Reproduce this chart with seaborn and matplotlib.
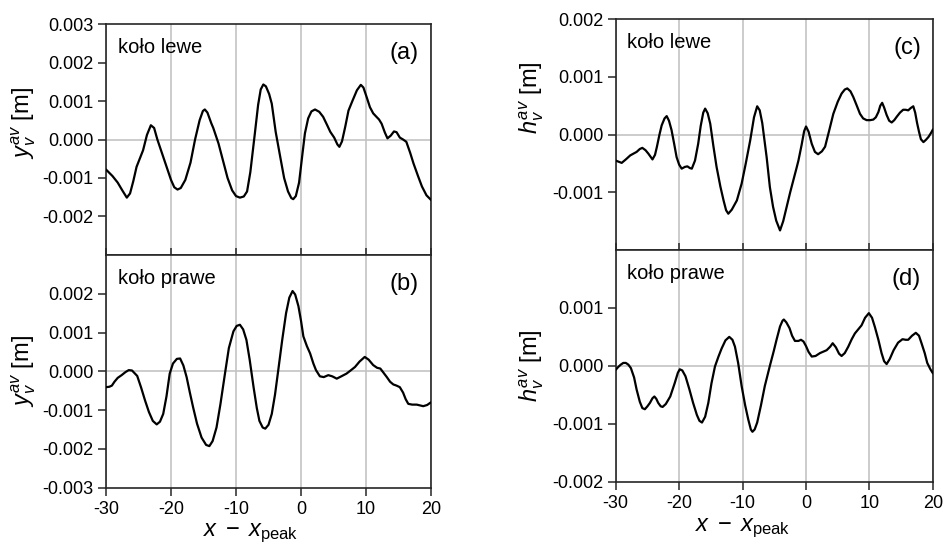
import matplotlib
matplotlib.use("Agg")
import seaborn as sns
import matplotlib.pyplot as plt

# ---- data (x - x_peak, displacement in m) ----
# (a) y_v^av, left wheel
xa = [-30, -29, -28.2, -27.5, -26.8, -26.3, -25.8, -25.3, -24.3, -23.7, -23.1, -22.6,
      -22.1, -21.5, -20.7, -20.0, -19.5, -19.0, -18.5, -17.8, -17.0, -16.3, -15.6, -15.1,
      -14.8, -14.4, -13.8, -13.5, -12.7, -12.0, -11.3, -10.6, -10.0, -9.4, -8.8, -8.3,
      -7.8, -7.1, -6.6, -6.2, -5.8, -5.4, -4.9, -4.5, -3.9, -3.2, -2.6, -2.0, -1.5, -1.2,
      -0.8, -0.3, 0.2, 0.6, 1.1, 1.6, 2.15, 2.8, 3.4, 4.0, 4.5, 5.1, 5.6, 5.9, 6.3, 6.8,
      7.3, 7.9, 8.6, 9.2, 9.6, 10.1, 10.6, 11.1, 11.6, 12.0, 12.4, 12.9, 13.3, 13.8, 14.3,
      14.7, 15.2, 15.7, 16.2, 16.8, 17.3, 18.0, 18.6, 19.3, 20]
ya = [-0.00078, -0.00095, -0.00112, -0.00132, -0.00151, -0.00140, -0.00108, -0.00071,
      -0.00028, 0.00012, 0.00037, 0.00030, 0.00000, -0.00030, -0.00070, -0.00105,
      -0.00124, -0.00130, -0.00126, -0.00105, -0.00060, 0.00000, 0.00050, 0.00074,
      0.00078, 0.00070, 0.00042, 0.00030, -0.00010, -0.00055, -0.00100, -0.00132,
      -0.00147, -0.00151, -0.00148, -0.00135, -0.00085, 0.00016, 0.00090, 0.00130,
      0.00143, 0.00138, 0.00118, 0.00093, 0.00020, -0.00045, -0.00100, -0.00135,
      -0.00152, -0.00155, -0.00147, -0.00112, -0.00040, 0.00016, 0.00055, 0.00073,
      0.00078, 0.00072, 0.00059, 0.00038, 0.00020, 0.00005, -0.00013, -0.00019,
      -0.00005, 0.00033, 0.00075, 0.00100, 0.00128, 0.00142, 0.00135, 0.00110, 0.00084,
      0.00068, 0.00059, 0.00052, 0.00041, 0.00018, 0.00003, 0.00010, 0.00021, 0.00019,
      0.00005, 0.00000, -0.00006, -0.00035, -0.00062, -0.00095, -0.00122, -0.00145,
      -0.00157]

# (b) y_v^av, right wheel
xb = [-30, -29.5, -29.1, -28.7, -28.2, -27.6, -27.0, -26.5, -26.0, -25.6, -25.2, -24.6,
      -24.0, -23.4, -22.8, -22.2, -21.7, -21.2, -20.7, -20.2, -19.7, -19.1, -18.6, -18.1,
      -17.6, -17.1, -16.6, -16.0, -15.3, -14.6, -14.1, -13.6, -13.0, -12.4, -11.7, -11.1,
      -10.4, -9.9, -9.4, -8.9, -8.4, -7.9, -7.3, -6.8, -6.4, -5.9, -5.5, -5.0, -4.5, -4.0,
      -3.5, -2.9, -2.3, -1.8, -1.3, -0.9, -0.4, 0.0, 0.36, 0.9, 1.4, 1.9, 2.3, 2.9, 3.5,
      4.2, 4.8, 5.5, 6.2, 7.0, 7.7, 8.3, 9.0, 9.8, 10.4, 11.1, 11.7, 12.2, 12.7, 13.2,
      13.7, 14.2, 14.7, 15.2, 15.7, 16.1, 16.5, 17.1, 17.8, 18.3, 18.8, 19.4, 20]
yb = [-0.00041, -0.00040, -0.00037, -0.00027, -0.00017, -0.00010, -0.00002, 0.00003,
      0.00002, -0.00005, -0.00012, -0.00042, -0.00075, -0.00105, -0.00128, -0.00137,
      -0.00130, -0.00110, -0.00065, -0.00006, 0.00020, 0.00032, 0.00033, 0.00015,
      -0.00015, -0.00055, -0.00093, -0.00135, -0.00171, -0.00190, -0.00193, -0.00180,
      -0.00145, -0.00085, -0.00006, 0.00060, 0.00103, 0.00117, 0.00120, 0.00108,
      0.00081, 0.00030, -0.00041, -0.00095, -0.00128, -0.00145, -0.00148, -0.00138,
      -0.00110, -0.00060, 0.00003, 0.00080, 0.00150, 0.00190, 0.00207, 0.00198, 0.00168,
      0.00130, 0.00090, 0.00065, 0.00046, 0.00020, 0.00003, -0.00013, -0.00015,
      -0.00010, -0.00013, -0.00019, -0.00013, -0.00006, 0.00003, 0.00011, 0.00025,
      0.00037, 0.00030, 0.00016, 0.00009, 0.00007, -0.00004, -0.00015, -0.00027,
      -0.00034, -0.00037, -0.00041, -0.00055, -0.00072, -0.00084, -0.00086, -0.00086,
      -0.00088, -0.00090, -0.00087, -0.00080]

# (c) h_v^av, left wheel
xc = [-30, -29.05, -28.4, -27.7, -26.7, -26.2, -25.8, -25.3, -24.85, -24.2, -23.8, -23.5,
      -23.1, -22.75, -22.3, -21.96, -21.6, -21.2, -20.8, -20.4, -20.0, -19.6, -19.1,
      -18.7, -18.3, -18.0, -17.5, -17.0, -16.6, -16.2, -15.9, -15.5, -15.1, -14.6, -14.1,
      -13.5, -13.0, -12.6, -12.25, -11.7, -10.9, -10.15, -9.5, -8.8, -8.2, -7.7, -7.3,
      -6.9, -6.2, -5.7, -5.2, -4.7, -4.1, -3.6, -3.05, -2.5, -2.0, -1.5, -1.2, -0.7, -0.3,
      0.0, 0.4, 0.9, 1.4, 1.9, 2.5, 3.0, 3.6, 4.3, 5.0, 5.6, 6.1, 6.5, 7.0, 7.45, 8.0, 8.5,
      9.0, 9.55, 10.1, 10.6, 11.0, 11.4, 11.7, 12.0, 12.3, 12.7, 13.1, 13.5, 13.9, 14.3,
      14.8, 15.3, 15.7, 16.1, 16.5, 16.9, 17.2, 17.5, 17.8, 18.1, 18.5, 18.9, 19.3, 19.7,
      20]
yc = [-0.00045, -0.00049, -0.00043, -0.00036, -0.00030, -0.00025, -0.00023, -0.00027,
      -0.00033, -0.00043, -0.00035, -0.00021, 0.00000, 0.00016, 0.00028, 0.00032,
      0.00024, 0.00008, -0.00015, -0.00039, -0.00052, -0.00059, -0.00056, -0.00055,
      -0.00058, -0.00059, -0.00045, -0.00016, 0.00015, 0.00038, 0.00045, 0.00037,
      0.00019, -0.00020, -0.00056, -0.00090, -0.00114, -0.00131, -0.00137, -0.00130,
      -0.00114, -0.00085, -0.00050, -0.00010, 0.00030, 0.00049, 0.00042, 0.00020,
      -0.00040, -0.00091, -0.00125, -0.00149, -0.00166, -0.00150, -0.00125, -0.00100,
      -0.00079, -0.00058, -0.00045, -0.00018, 0.00006, 0.00014, 0.00005, -0.00016,
      -0.00030, -0.00034, -0.00029, -0.00021, 0.00005, 0.00036, 0.00057, 0.00071,
      0.00078, 0.00080, 0.00075, 0.00065, 0.00050, 0.00036, 0.00028, 0.00025, 0.00025,
      0.00026, 0.00030, 0.00039, 0.00050, 0.00055, 0.00047, 0.00034, 0.00024, 0.00021,
      0.00025, 0.00031, 0.00038, 0.00043, 0.00043, 0.00042, 0.00046, 0.00049, 0.00038,
      0.00020, 0.00005, -0.00008, -0.00013, -0.00009, -0.00004, 0.00003, 0.00009]

# (d) h_v^av, right wheel
xd = [-30, -29.6, -29.2, -28.8, -28.4, -28.0, -27.6, -27.1, -26.7, -26.2, -25.8, -25.4,
      -25.0, -24.6, -24.2, -23.9, -23.6, -23.3, -22.9, -22.6, -22.1, -21.4, -20.7, -20.2,
      -19.9, -19.5, -19.0, -18.4, -17.8, -17.2, -16.8, -16.4, -15.9, -15.4, -14.9, -14.35,
      -13.8, -13.3, -12.7, -12.1, -11.6, -11.2, -10.7, -10.15, -9.6, -9.1, -8.7, -8.45,
      -8.1, -7.7, -7.1, -6.5, -5.7, -5.1, -4.65, -4.1, -3.7, -3.5, -3.1, -2.6, -2.2, -1.75,
      -1.2, -0.8, -0.4, 0.0, 0.4, 0.9, 1.5, 2.2, 3.25, 3.8, 4.2, 4.7, 5.2, 5.6, 6.1, 6.65,
      7.2, 7.7, 8.3, 8.75, 9.3, 9.9, 10.4, 10.85, 11.4, 11.9, 12.3, 12.7, 13.2, 13.8, 14.5,
      15.2, 15.7, 16.1, 16.7, 17.3, 17.8, 18.2, 18.7, 19.1, 19.6, 20]
yd = [-0.00007, -0.00002, 0.00002, 0.00005, 0.00005, 0.00002, -0.00004, -0.00020,
      -0.00041, -0.00062, -0.00073, -0.00075, -0.00070, -0.00064, -0.00056, -0.00053,
      -0.00057, -0.00064, -0.00070, -0.00071, -0.00066, -0.00053, -0.00030, -0.00012,
      -0.00006, -0.00008, -0.00018, -0.00040, -0.00064, -0.00085, -0.00095, -0.00098,
      -0.00088, -0.00064, -0.00030, -0.00001, 0.00016, 0.00030, 0.00044, 0.00050,
      0.00045, 0.00033, 0.00005, -0.00035, -0.00068, -0.00093, -0.00110, -0.00114,
      -0.00110, -0.00098, -0.00068, -0.00035, 0.00000, 0.00025, 0.00045, 0.00068,
      0.00078, 0.00080, 0.00075, 0.00065, 0.00052, 0.00043, 0.00043, 0.00045, 0.00042,
      0.00034, 0.00024, 0.00016, 0.00017, 0.00022, 0.00027, 0.00033, 0.00039, 0.00032,
      0.00021, 0.00017, 0.00022, 0.00033, 0.00046, 0.00056, 0.00064, 0.00070, 0.00083,
      0.00091, 0.00083, 0.00067, 0.00045, 0.00022, 0.00008, 0.00003, 0.00012, 0.00027,
      0.00040, 0.00046, 0.00045, 0.00045, 0.00052, 0.00057, 0.00052, 0.00039, 0.00022,
      0.00005, -0.00006, -0.00013]

X_TICKS = [-30, -20, -10, 0, 10, 20]
X_TICK_LABELS = ["-30", "-20", "-10", "0", "10", "20"]

YTICKS_A = [0.003, 0.002, 0.001, 0.0, -0.001, -0.002]
YLABELS_A = ["0.003", "0.002", "0.001", "0.000", "-0.001", "-0.002"]
YTICKS_B = [0.002, 0.001, 0.0, -0.001, -0.002, -0.003]
YLABELS_B = ["0.002", "0.001", "0.000", "-0.001", "-0.002", "-0.003"]
YTICKS_C = [0.002, 0.001, 0.0, -0.001]
YLABELS_C = ["0.002", "0.001", "0.000", "-0.001"]
YTICKS_D = [0.001, 0.0, -0.001, -0.002]
YLABELS_D = ["0.001", "0.000", "-0.001", "-0.002"]

sns.set_style("ticks")
plt.rcParams["font.family"] = ["Liberation Sans", "DejaVu Sans"]
plt.rcParams["mathtext.fontset"] = "custom"
plt.rcParams["mathtext.rm"] = "Liberation Sans"
plt.rcParams["mathtext.it"] = "Liberation Sans:italic"
plt.rcParams["text.color"] = "black"
plt.rcParams["axes.labelcolor"] = "black"
plt.rcParams["xtick.labelcolor"] = "black"
plt.rcParams["ytick.labelcolor"] = "black"

GRID = "#c3c3c3"
SPINE = "#262626"

fig = plt.figure(figsize=(9.44, 5.46), dpi=100)
ax_a = fig.add_axes([0.1123, 0.533, 0.3443, 0.423])
ax_b = fig.add_axes([0.1123, 0.107, 0.3443, 0.426])
ax_c = fig.add_axes([0.6522, 0.542, 0.3361, 0.423])
ax_d = fig.add_axes([0.6522, 0.118, 0.3361, 0.424])


def draw_panel(ax, x, y, ylim, yticks, ylabels, ylabel, tag, wheel, label_pos, xlabel_pos=None):
    ax.set_xlim(-30, 20)
    ax.set_ylim(*ylim)
    ax.grid(axis="x", color=GRID, linewidth=1.2, zorder=0)
    ax.axhline(0, color=GRID, linewidth=1.2, zorder=0)
    sns.lineplot(x=x, y=y, ax=ax, color="black", linewidth=1.6, estimator=None, sort=False, zorder=3)
    ax.set_xticks(X_TICKS)
    ax.set_yticks(yticks)
    ax.set_yticklabels(ylabels, fontsize=13)
    ax.tick_params(axis="y", direction="out", length=6, width=1.1, color=SPINE, pad=3)
    if xlabel_pos is not None:
        ax.set_xticklabels(X_TICK_LABELS, fontsize=13)
        ax.tick_params(axis="x", direction="out", length=6, width=1.1, color=SPINE, pad=4)
        ax.set_xlabel(r"$x\;-\;x_{\mathrm{peak}}$", fontsize=17)
        ax.xaxis.set_label_coords(*xlabel_pos)
    else:
        ax.set_xticklabels([])
        ax.tick_params(axis="x", direction="in", length=5, width=1.1, color=SPINE)
        ax.set_xlabel("")
    ax.set_ylabel(ylabel, fontsize=17)
    ax.yaxis.set_label_coords(*label_pos)
    for sp in ax.spines.values():
        sp.set_visible(True)
        sp.set_color(SPINE)
        sp.set_linewidth(1.2)
    ax.text(0.036, 0.90, wheel, transform=ax.transAxes, fontsize=14.5, va="center", ha="left")
    ax.text(0.962, 0.875, tag, transform=ax.transAxes, fontsize=17, va="center", ha="right")


draw_panel(ax_a, xa, ya, (-0.003, 0.003), YTICKS_A, YLABELS_A,
           r"$y_v^{av}$ [m]", "(a)", "koło lewe", (-0.21, 0.57))
draw_panel(ax_b, xb, yb, (-0.003, 0.003), YTICKS_B, YLABELS_B,
           r"$y_v^{av}$ [m]", "(b)", "koło prawe", (-0.21, 0.50), xlabel_pos=(0.445, -0.148))
draw_panel(ax_c, xc, yc, (-0.002, 0.002), YTICKS_C, YLABELS_C,
           r"$h_v^{av}$ [m]", "(c)", "koło lewe", (-0.22, 0.66))
draw_panel(ax_d, xd, yd, (-0.002, 0.002), YTICKS_D, YLABELS_D,
           r"$h_v^{av}$ [m]", "(d)", "koło prawe", (-0.22, 0.50), xlabel_pos=(0.40, -0.15))

fig.savefig("out.png", dpi=100)
